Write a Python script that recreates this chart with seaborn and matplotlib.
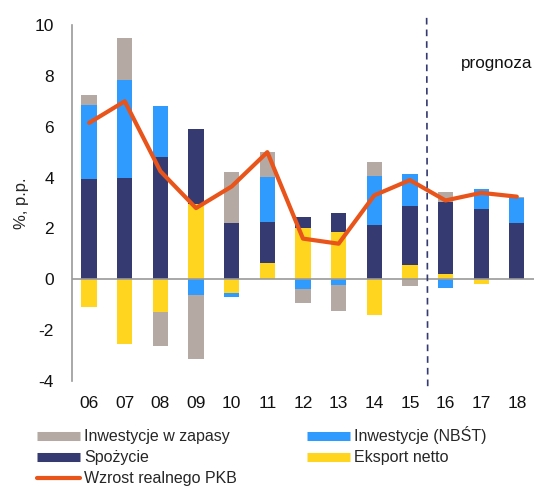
import numpy as np
import pandas as pd
import matplotlib
matplotlib.use("Agg")
import matplotlib.pyplot as plt
import seaborn as sns
from matplotlib.lines import Line2D

sns.set_theme(style="white")
plt.rcParams['font.family'] = ['Liberation Sans', 'DejaVu Sans']
plt.rcParams['axes.unicode_minus'] = False

years = ["06", "07", "08", "09", "10", "11", "12", "13", "14", "15", "16", "17", "18"]
eksport = [-1.1, -2.55, -1.3, 2.95, -0.55, 0.65, 2.0, 1.87, -1.4, 0.55, 0.2, -0.17, 0.0]
spozycie = [3.95, 3.97, 4.8, 2.95, 2.2, 1.6, 0.46, 0.72, 2.15, 2.32, 2.85, 2.76, 2.23]
nbst = [2.9, 3.87, 2.0, -0.62, -0.13, 1.77, -0.37, -0.22, 1.9, 1.27, -0.35, 0.78, 0.95]
zapasy = [0.4, 1.64, -1.33, -2.51, 2.0, 1.0, -0.55, -1.03, 0.57, -0.25, 0.37, 0.0, 0.07]
pkb = [6.15, 7.0, 4.25, 2.8, 3.65, 5.0, 1.6, 1.4, 3.3, 3.9, 3.1, 3.4, 3.25]

names = ["Eksport netto", "Spożycie", "Inwestycje (NBŚT)", "Inwestycje w zapasy"]
colors = ["#FFD520", "#353A70", "#2F9BFF", "#B5A9A3"]
series = [eksport, spozycie, nbst, zapasy]

fig = plt.figure(figsize=(5.35, 4.86), dpi=100)
ax = fig.add_axes([0.1346, 0.216, 0.998 - 0.1346, 0.9486 - 0.216])

arr = np.array(series)
pos = np.clip(arr, 0, None)
neg = np.clip(arr, None, 0)
cum_pos = np.cumsum(pos, axis=0)
cum_neg = np.cumsum(neg, axis=0)

# draw layers from outermost to innermost so inner ones cover
for k in range(len(series) - 1, -1, -1):
    for cum in (cum_pos, cum_neg):
        df = pd.DataFrame({"rok": years, "v": cum[k]})
        sns.barplot(data=df, x="rok", y="v", order=years, color=colors[k],
                    width=0.43, saturation=1, ax=ax, linewidth=0)

sns.lineplot(x=np.arange(len(years)), y=pkb, ax=ax, color="#E8541A",
             linewidth=3.0, zorder=5)

ax.axhline(0, color="#999999", linewidth=1.2, zorder=4)
ax.plot([9.47, 9.5], [1.02, -0.02], transform=ax.get_xaxis_transform(),
        color="#353A70", linestyle=(0, (4, 3)), linewidth=1.2, clip_on=False, zorder=6)
ax.text(12.45, 8.5, "prognoza", ha="right", va="center", fontsize=12.3, color="#111111")

ax.set_xlim(-0.48, 12.48)
ax.set_ylim(-4, 10)
ax.set_yticks(range(-4, 11, 2))
ax.set_xlabel("")
ax.set_ylabel("%, p.p.", fontsize=12, labelpad=4)
for s in ["top", "right", "bottom"]:
    ax.spines[s].set_visible(False)
ax.spines["left"].set_color("#999999")
ax.spines["left"].set_linewidth(1.2)
ax.tick_params(axis="both", labelsize=12.5, colors="#111111", length=0)
ax.tick_params(axis="x", pad=11)
ax.tick_params(axis="y", pad=13)

handles = [
    Line2D([0], [0], color="#B5A9A3", lw=6.5, solid_capstyle="butt"),
    Line2D([0], [0], color="#353A70", lw=6.5, solid_capstyle="butt"),
    Line2D([0], [0], color="#E8541A", lw=3.0, solid_capstyle="round"),
    Line2D([0], [0], color="#2F9BFF", lw=6.5, solid_capstyle="butt"),
    Line2D([0], [0], color="#FFD520", lw=6.5, solid_capstyle="butt"),
]
labels = ["Inwestycje w zapasy", "Spożycie", "Wzrost realnego PKB",
          "Inwestycje (NBŚT)", "Eksport netto"]
fig.legend(handles, labels, loc="upper left", bbox_to_anchor=(0.069, 0.123),
           ncol=2, frameon=False, fontsize=11.5, handlelength=2.7,
           handletextpad=0.25, columnspacing=4.4, labelspacing=0.38,
           borderpad=0, borderaxespad=0)

fig.savefig("out.png", dpi=100)
